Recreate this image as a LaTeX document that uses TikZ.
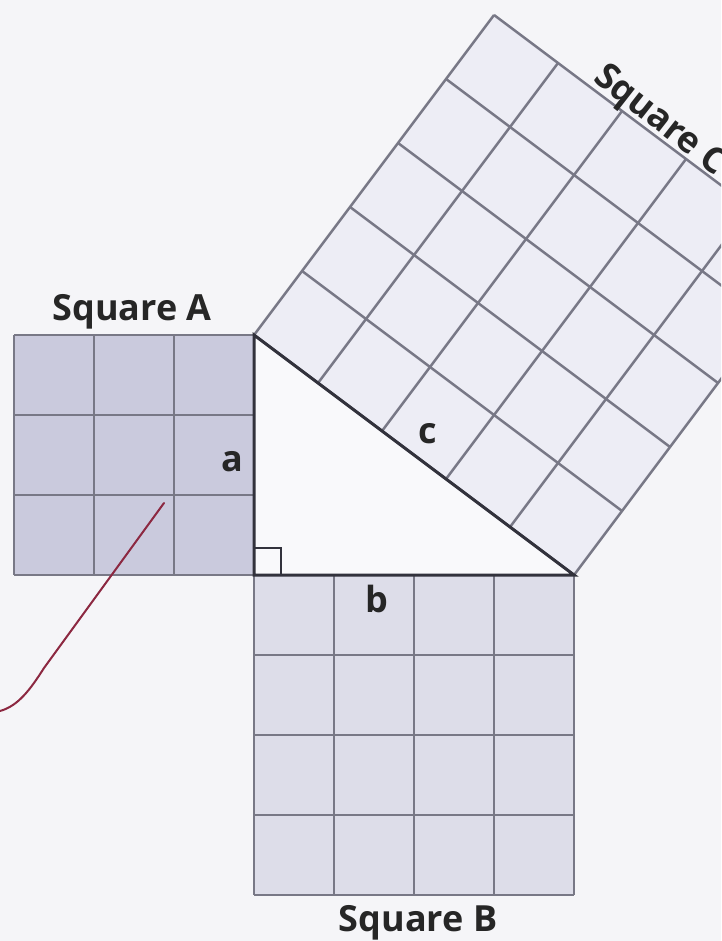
\documentclass[tikz,border=0pt]{standalone}
\usepackage{fontspec}
\setmainfont{Open Sans}
\usetikzlibrary{calc}
\definecolor{bgcol}{RGB}{245,245,248}
\definecolor{fillA}{RGB}{202,202,221}
\definecolor{fillB}{RGB}{221,221,233}
\definecolor{fillC}{RGB}{237,237,245}
\definecolor{tricol}{RGB}{249,249,251}
\definecolor{gridcol}{RGB}{120,120,134}
\definecolor{edgecol}{RGB}{50,50,60}
\definecolor{pencol}{RGB}{140,40,65}
\tikzset{
  gridline/.style={draw=gridcol, line width=2.5pt},
  legline/.style={draw=edgecol, line width=3pt, line cap=round},
  lbl/.style={font=\bfseries\fontsize{36}{40}\selectfont, text=black!85, inner sep=0pt},
  pen/.style={draw=pencol, line width=2pt, line cap=round}
}
\begin{document}
\begin{tikzpicture}[x=1pt,y=-1pt]
\useasboundingbox (0,0) rectangle (721,941);
\clip (0,0) rectangle (721,941);
\fill[bgcol] (0,0) rectangle (721,941);
% key points
\coordinate (P) at (254,335);
\coordinate (R) at (254,575);
\coordinate (Q) at (574,575);
\coordinate (T) at ($(P)+(240,-320)$);
\coordinate (U) at ($(Q)+(240,-320)$);
% triangle
\fill[tricol] (P) -- (R) -- (Q) -- cycle;
% Square A
\fill[fillA] (14,335) rectangle (R);
\foreach \i in {0,...,3}{
  \draw[gridline] (14+80*\i,335) -- (14+80*\i,575);
  \draw[gridline] (14,335+80*\i) -- (254,335+80*\i);
}
% Square B
\fill[fillB] (R) rectangle (574,895);
\foreach \i in {0,...,4}{
  \draw[gridline] (254+80*\i,575) -- (254+80*\i,895);
  \draw[gridline] (254,575+80*\i) -- (574,575+80*\i);
}
% Square C
\fill[fillC] (P) -- (Q) -- (U) -- (T) -- cycle;
\foreach \i in {0,...,5}{
  \draw[gridline] ($(P)+(64*\i,48*\i)$) -- ($(P)+(64*\i,48*\i)+(240,-320)$);
  \draw[gridline] ($(P)+(48*\i,-64*\i)$) -- ($(P)+(48*\i,-64*\i)+(320,240)$);
}
% triangle sides
\draw[legline] (P) -- (R) -- (Q) -- cycle;
% right angle mark
\draw[draw=edgecol, line width=2pt] (254,548) -- (281,548) -- (281,575);
% labels
\node[lbl, anchor=base] (sqA) at (132,320) {Square A};
\node[lbl, anchor=base] (la) at (232,471) {a};
\node[lbl, anchor=base] (lb) at (377,612) {b};
\node[lbl, anchor=base] (lc) at (428,443) {c};
\node[lbl, anchor=base] (sqB) at (418,931) {Square B};
\node[lbl, anchor=base west, rotate=-38] (sqC) at (592,80) {Square C};
% pen stroke
\coordinate (rs) at (164,503);
\coordinate (re) at (0,711);
\draw[pen] (rs) -- (44,668) .. controls (30,690) and (18,706) .. (re);
\end{tikzpicture}
\end{document}
